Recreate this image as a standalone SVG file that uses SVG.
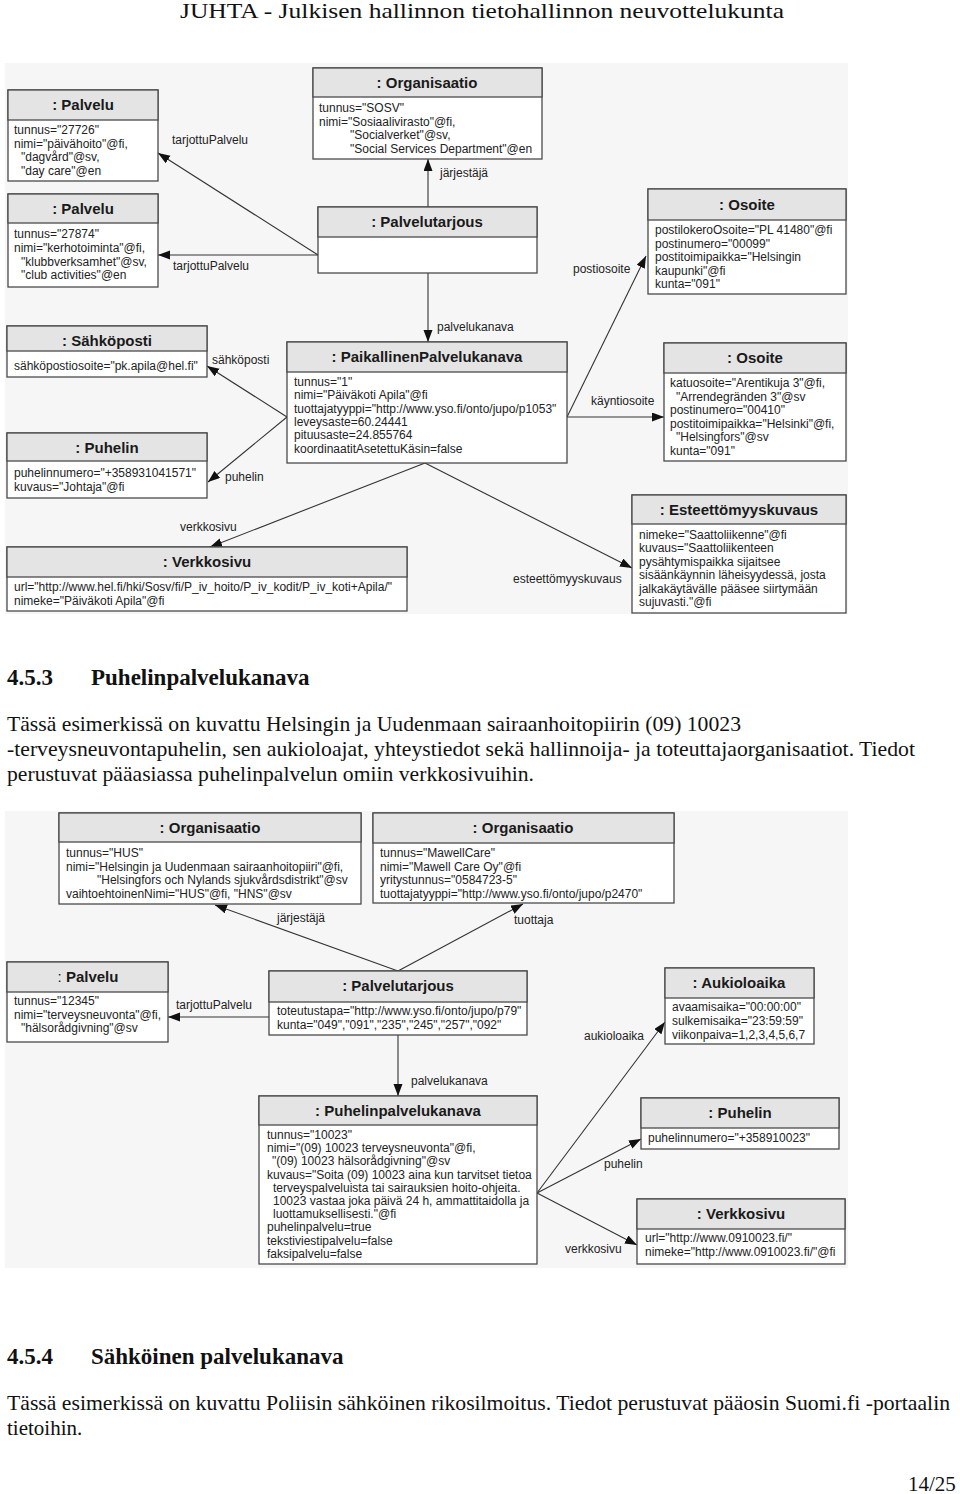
<svg xmlns="http://www.w3.org/2000/svg" width="960" height="1494" viewBox="0 0 960 1494">
<style>
.bg{fill:#f6f6f6}
.bd{fill:#fff;stroke:#4a4a4a;stroke-width:1.3}
.hd{fill:#e4e4e4;stroke:#4a4a4a;stroke-width:1.3}
.h{font-family:"Liberation Sans",Arial,sans-serif;font-size:15px;font-weight:bold;fill:#1a1a1a;text-anchor:middle}
.t{font-family:"Liberation Sans",Arial,sans-serif;font-size:12px;fill:#222}
.l{font-family:"Liberation Sans",Arial,sans-serif;font-size:12px;fill:#222}
.c{fill:none;stroke:#333;stroke-width:1.1}
.pg{font-family:"Liberation Serif","Times New Roman",serif;font-size:21px;fill:#111}
.ph{font-family:"Liberation Serif","Times New Roman",serif;font-size:23px;font-weight:bold;fill:#111}
</style>
<defs>
<marker id="ah" markerUnits="userSpaceOnUse" markerWidth="13" markerHeight="10" refX="12" refY="4.5" orient="auto">
<path d="M0,0 L12,4.5 L0,9 z" fill="#111"/>
</marker>
</defs>
<rect width="960" height="1494" fill="#fff"/>
<text class="pg" x="482" y="18" text-anchor="middle" font-size="22" textLength="604" lengthAdjust="spacingAndGlyphs">JUHTA - Julkisen hallinnon tietohallinnon neuvottelukunta</text>

<!-- top diagram -->
<rect class="bg" x="5" y="63" width="843" height="551"/>
<g id="top-connectors">
<path class="c" d="M318,255 L158,153" marker-end="url(#ah)"/>
<path class="c" d="M318,255 L158,255" marker-end="url(#ah)"/>
<path class="c" d="M428,207 L428,159" marker-end="url(#ah)"/>
<path class="c" d="M428,273 L428,342" marker-end="url(#ah)"/>
<path class="c" d="M567,417 L646,256" marker-end="url(#ah)"/>
<path class="c" d="M567,417 L664,417" marker-end="url(#ah)"/>
<path class="c" d="M287,417 L207,366" marker-end="url(#ah)"/>
<path class="c" d="M287,417 L208,482" marker-end="url(#ah)"/>
<path class="c" d="M425,463 L210,547" marker-end="url(#ah)"/>
<path class="c" d="M425,463 L632,568" marker-end="url(#ah)"/>
<text class="l" x="172" y="144">tarjottuPalvelu</text>
<text class="l" x="173" y="270">tarjottuPalvelu</text>
<text class="l" x="440" y="177">järjestäjä</text>
<text class="l" x="437" y="331">palvelukanava</text>
<text class="l" x="573" y="273">postiosoite</text>
<text class="l" x="591" y="405">käyntiosoite</text>
<text class="l" x="212" y="364">sähköposti</text>
<text class="l" x="225" y="481">puhelin</text>
<text class="l" x="180" y="531">verkkosivu</text>
<text class="l" x="513" y="583">esteettömyyskuvaus</text>
</g>

<g id="palvelu1">
<rect class="bd" x="8" y="90" width="150" height="91"/>
<rect class="hd" x="8" y="90" width="150" height="30"/>
<text class="h" x="83" y="110">: Palvelu</text>
<text class="t"><tspan x="14" y="134">tunnus="27726"</tspan><tspan x="14" y="147.5">nimi="päivähoito"@fi,</tspan><tspan x="21" y="161">"dagvård"@sv,</tspan><tspan x="21" y="174.5">"day care"@en</tspan></text>
</g>
<g id="palvelu2">
<rect class="bd" x="8" y="194" width="150" height="93"/>
<rect class="hd" x="8" y="194" width="150" height="29"/>
<text class="h" x="83" y="214">: Palvelu</text>
<text class="t"><tspan x="14" y="238">tunnus="27874"</tspan><tspan x="14" y="252">nimi="kerhotoiminta"@fi,</tspan><tspan x="21" y="265.5">"klubbverksamhet"@sv,</tspan><tspan x="21" y="279">"club activities"@en</tspan></text>
</g>
<g id="organisaatio-sosv">
<rect class="bd" x="313" y="68" width="229" height="91"/>
<rect class="hd" x="313" y="68" width="229" height="29"/>
<text class="h" x="427" y="88">: Organisaatio</text>
<text class="t"><tspan x="319" y="112">tunnus="SOSV"</tspan><tspan x="319" y="125.5">nimi="Sosiaalivirasto"@fi,</tspan><tspan x="350" y="139">"Socialverket"@sv,</tspan><tspan x="350" y="152.5">"Social Services Department"@en</tspan></text>
</g>
<g id="palvelutarjous1">
<rect class="bd" x="318" y="207" width="219" height="66"/>
<rect class="hd" x="318" y="207" width="219" height="30"/>
<text class="h" x="427" y="227">: Palvelutarjous</text>
</g>
<g id="osoite1">
<rect class="bd" x="648" y="189" width="198" height="105"/>
<rect class="hd" x="648" y="189" width="198" height="31"/>
<text class="h" x="747" y="210">: Osoite</text>
<text class="t"><tspan x="655" y="234">postilokeroOsoite="PL 41480"@fi</tspan><tspan x="655" y="247.5">postinumero="00099"</tspan><tspan x="655" y="261">postitoimipaikka="Helsingin</tspan><tspan x="655" y="274.5">kaupunki"@fi</tspan><tspan x="655" y="288">kunta="091"</tspan></text>
</g>
<g id="sahkoposti">
<rect class="bd" x="7" y="326" width="200" height="51"/>
<rect class="hd" x="7" y="326" width="200" height="25"/>
<text class="h" x="107" y="346">: Sähköposti</text>
<text class="t"><tspan x="14" y="370">sähköpostiosoite="pk.apila@hel.fi"</tspan></text>
</g>
<g id="puhelin1">
<rect class="bd" x="7" y="433" width="200" height="65"/>
<rect class="hd" x="7" y="433" width="200" height="28"/>
<text class="h" x="107" y="453">: Puhelin</text>
<text class="t"><tspan x="14" y="477">puhelinnumero="+358931041571"</tspan><tspan x="14" y="491">kuvaus="Johtaja"@fi</tspan></text>
</g>
<g id="paikallinen">
<rect class="bd" x="287" y="342" width="280" height="121"/>
<rect class="hd" x="287" y="342" width="280" height="30"/>
<text class="h" x="427" y="362">: PaikallinenPalvelukanava</text>
<text class="t"><tspan x="294" y="386">tunnus="1"</tspan><tspan x="294" y="399.3">nimi="Päiväkoti Apila"@fi</tspan><tspan x="294" y="412.6">tuottajatyyppi="http://www.yso.fi/onto/jupo/p1053"</tspan><tspan x="294" y="425.9">leveysaste=60.24441</tspan><tspan x="294" y="439.2">pituusaste=24.855764</tspan><tspan x="294" y="452.5">koordinaatitAsetettuKäsin=false</tspan></text>
</g>
<g id="osoite2">
<rect class="bd" x="664" y="343" width="182" height="118"/>
<rect class="hd" x="664" y="343" width="182" height="30"/>
<text class="h" x="755" y="363">: Osoite</text>
<text class="t"><tspan x="670" y="387">katuosoite="Arentikuja 3"@fi,</tspan><tspan x="676" y="400.5">"Arrendegränden 3"@sv</tspan><tspan x="670" y="414">postinumero="00410"</tspan><tspan x="670" y="427.5">postitoimipaikka="Helsinki"@fi,</tspan><tspan x="676" y="441">"Helsingfors"@sv</tspan><tspan x="670" y="454.5">kunta="091"</tspan></text>
</g>
<g id="verkkosivu1">
<rect class="bd" x="7" y="547" width="400" height="64"/>
<rect class="hd" x="7" y="547" width="400" height="30"/>
<text class="h" x="207" y="567">: Verkkosivu</text>
<text class="t"><tspan x="14" y="591">url="http://www.hel.fi/hki/Sosv/fi/P_iv_hoito/P_iv_kodit/P_iv_koti+Apila/"</tspan><tspan x="14" y="605">nimeke="Päiväkoti Apila"@fi</tspan></text>
</g>
<g id="esteettomyyskuvaus">
<rect class="bd" x="632" y="495" width="214" height="118"/>
<rect class="hd" x="632" y="495" width="214" height="29"/>
<text class="h" x="739" y="515">: Esteettömyyskuvaus</text>
<text class="t"><tspan x="639" y="539">nimeke="Saattoliikenne"@fi</tspan><tspan x="639" y="552.4">kuvaus="Saattoliikenteen</tspan><tspan x="639" y="565.8">pysähtymispaikka sijaitsee</tspan><tspan x="639" y="579.2">sisäänkäynnin läheisyydessä, josta</tspan><tspan x="639" y="592.6">jalkakäytävälle pääsee siirtymään</tspan><tspan x="639" y="606">sujuvasti."@fi</tspan></text>
</g>

<!-- page text -->
<text class="ph" x="7" y="685">4.5.3</text>
<text class="ph" x="91" y="685">Puhelinpalvelukanava</text>
<text class="pg" x="7" y="731" textLength="734" lengthAdjust="spacingAndGlyphs">Tässä esimerkissä on kuvattu Helsingin ja Uudenmaan sairaanhoitopiirin (09) 10023</text>
<text class="pg" x="7" y="756" textLength="908" lengthAdjust="spacingAndGlyphs">-terveysneuvontapuhelin, sen aukioloajat, yhteystiedot sekä hallinnoija- ja toteuttajaorganisaatiot. Tiedot</text>
<text class="pg" x="7" y="781" textLength="527" lengthAdjust="spacingAndGlyphs">perustuvat pääasiassa puhelinpalvelun omiin verkkosivuihin.</text>

<!-- bottom diagram -->
<rect class="bg" x="5" y="811" width="843" height="457"/>
<g id="bottom-connectors">
<path class="c" d="M398,971 L215,905" marker-end="url(#ah)"/>
<path class="c" d="M398,971 L523,904" marker-end="url(#ah)"/>
<path class="c" d="M269,1017 L168,1017" marker-end="url(#ah)"/>
<path class="c" d="M398,1035 L398,1096" marker-end="url(#ah)"/>
<path class="c" d="M537,1193 L665,1022" marker-end="url(#ah)"/>
<path class="c" d="M537,1193 L641,1139" marker-end="url(#ah)"/>
<path class="c" d="M537,1193 L637,1245" marker-end="url(#ah)"/>
<text class="l" x="277" y="922">järjestäjä</text>
<text class="l" x="514" y="924">tuottaja</text>
<text class="l" x="176" y="1009">tarjottuPalvelu</text>
<text class="l" x="411" y="1085">palvelukanava</text>
<text class="l" x="584" y="1040">aukioloaika</text>
<text class="l" x="604" y="1168">puhelin</text>
<text class="l" x="565" y="1253">verkkosivu</text>
</g>

<g id="organisaatio-hus">
<rect class="bd" x="59" y="813" width="302" height="91"/>
<rect class="hd" x="59" y="813" width="302" height="29"/>
<text class="h" x="210" y="833">: Organisaatio</text>
<text class="t"><tspan x="66" y="857">tunnus="HUS"</tspan><tspan x="66" y="870.5">nimi="Helsingin ja Uudenmaan sairaanhoitopiiri"@fi,</tspan><tspan x="97" y="884">"Helsingfors och Nylands sjukvårdsdistrikt"@sv</tspan><tspan x="66" y="897.5">vaihtoehtoinenNimi="HUS"@fi, "HNS"@sv</tspan></text>
</g>
<g id="organisaatio-mawell">
<rect class="bd" x="373" y="813" width="301" height="90"/>
<rect class="hd" x="373" y="813" width="301" height="30"/>
<text class="h" x="523" y="833">: Organisaatio</text>
<text class="t"><tspan x="380" y="857">tunnus="MawellCare"</tspan><tspan x="380" y="870.5">nimi="Mawell Care Oy"@fi</tspan><tspan x="380" y="884">yritystunnus="0584723-5"</tspan><tspan x="380" y="897.5">tuottajatyyppi="http://www.yso.fi/onto/jupo/p2470"</tspan></text>
</g>
<g id="palvelu3">
<rect class="bd" x="7" y="962" width="161" height="80"/>
<rect class="hd" x="7" y="962" width="161" height="30"/>
<text class="h" x="88" y="982"><tspan font-weight="normal">:</tspan> Palvelu</text>
<text class="t"><tspan x="14" y="1005">tunnus="12345"</tspan><tspan x="14" y="1018.5">nimi="terveysneuvonta"@fi,</tspan><tspan x="21" y="1032">"hälsorådgivning"@sv</tspan></text>
</g>
<g id="palvelutarjous2">
<rect class="bd" x="269" y="971" width="258" height="64"/>
<rect class="hd" x="269" y="971" width="258" height="31"/>
<text class="h" x="398" y="991">: Palvelutarjous</text>
<text class="t"><tspan x="277" y="1015">toteutustapa="http://www.yso.fi/onto/jupo/p79"</tspan><tspan x="277" y="1028.5">kunta="049","091","235","245","257","092"</tspan></text>
</g>
<g id="aukioloaika">
<rect class="bd" x="665" y="968" width="149" height="76"/>
<rect class="hd" x="665" y="968" width="149" height="30"/>
<text class="h" x="739" y="988">: Aukioloaika</text>
<text class="t"><tspan x="672" y="1011">avaamisaika="00:00:00"</tspan><tspan x="672" y="1025">sulkemisaika="23:59:59"</tspan><tspan x="672" y="1039">viikonpaiva=1,2,3,4,5,6,7</tspan></text>
</g>
<g id="puhelinpalvelukanava">
<rect class="bd" x="259" y="1096" width="278" height="168"/>
<rect class="hd" x="259" y="1096" width="278" height="29"/>
<text class="h" x="398" y="1116">: Puhelinpalvelukanava</text>
<text class="t"><tspan x="267" y="1139">tunnus="10023"</tspan><tspan x="267" y="1152.2">nimi="(09) 10023 terveysneuvonta"@fi,</tspan><tspan x="272" y="1165.4">"(09) 10023 hälsorådgivning"@sv</tspan><tspan x="267" y="1178.6">kuvaus="Soita (09) 10023 aina kun tarvitset tietoa</tspan><tspan x="273" y="1191.8">terveyspalveluista tai sairauksien hoito-ohjeita.</tspan><tspan x="273" y="1205">10023 vastaa joka päivä 24 h, ammattitaidolla ja</tspan><tspan x="273" y="1218.2">luottamuksellisesti."@fi</tspan><tspan x="267" y="1231.4">puhelinpalvelu=true</tspan><tspan x="267" y="1244.6">tekstiviestipalvelu=false</tspan><tspan x="267" y="1257.8">faksipalvelu=false</tspan></text>
</g>
<g id="puhelin2">
<rect class="bd" x="641" y="1098" width="198" height="51"/>
<rect class="hd" x="641" y="1098" width="198" height="30"/>
<text class="h" x="740" y="1118">: Puhelin</text>
<text class="t"><tspan x="648" y="1142">puhelinnumero="+358910023"</tspan></text>
</g>
<g id="verkkosivu2">
<rect class="bd" x="637" y="1199" width="208" height="65"/>
<rect class="hd" x="637" y="1199" width="208" height="30"/>
<text class="h" x="741" y="1219">: Verkkosivu</text>
<text class="t"><tspan x="645" y="1242">url="http://www.0910023.fi/"</tspan><tspan x="645" y="1256">nimeke="http://www.0910023.fi/"@fi</tspan></text>
</g>

<text class="ph" x="7" y="1364">4.5.4</text>
<text class="ph" x="91" y="1364">Sähköinen palvelukanava</text>
<text class="pg" x="7" y="1410" textLength="943" lengthAdjust="spacingAndGlyphs">Tässä esimerkissä on kuvattu Poliisin sähköinen rikosilmoitus. Tiedot perustuvat pääosin Suomi.fi -portaalin</text>
<text class="pg" x="7" y="1435">tietoihin.</text>
<text class="pg" x="908" y="1491">14/25</text>
</svg>
